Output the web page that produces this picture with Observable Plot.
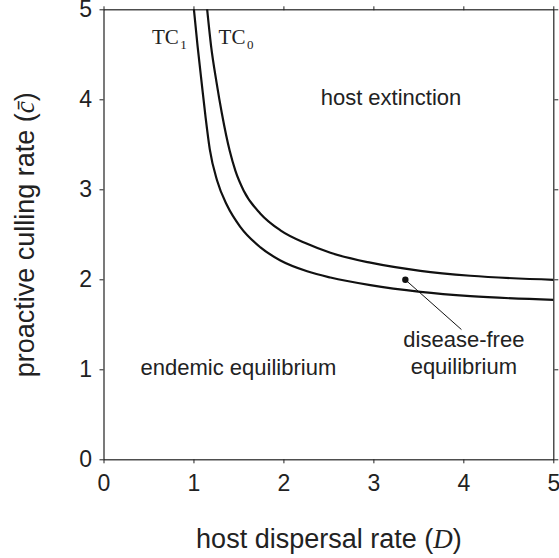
<!DOCTYPE html>
<html>
<head>
<meta charset="utf-8">
<script src="https://cdn.jsdelivr.net/npm/d3@7"></script>
<script src="https://cdn.jsdelivr.net/npm/@observablehq/plot@0.6"></script>
<style>
  html, body { margin: 0; padding: 0; background: #fff; }
</style>
</head>
<body>
<div id="chart"></div>
<script>
// ---- data ----
// TC1 (lower threshold curve): host dispersal rate D vs proactive culling rate c
const tc1D = [1.00, 1.04, 1.09, 1.13, 1.176, 1.258, 1.369, 1.517, 1.739, 1.961, 2.258, 2.517, 2.961, 3.517, 4.072, 5.00];
const tc1C = [5.00, 4.60, 4.15, 3.80, 3.45, 3.10, 2.825, 2.585, 2.36, 2.215, 2.095, 2.025, 1.94, 1.866, 1.818, 1.778];
// TC0 (upper threshold curve)
const tc0D = [1.147, 1.19, 1.25, 1.31, 1.398, 1.461, 1.553, 1.739, 1.961, 2.258, 2.517, 2.961, 3.517, 4.072, 5.00];
const tc0C = [5.00, 4.60, 4.20, 3.85, 3.43, 3.21, 2.99, 2.735, 2.55, 2.40, 2.30, 2.19, 2.10, 2.045, 2.00];
// disease-free equilibrium point and its leader line
const dfeD = [3.35];
const dfeC = [2.0];
const leaderD = [3.35, 3.97];
const leaderC = [2.0, 1.45];
// ticks
const xTicks = [0, 1, 2, 3, 4, 5];
const yTicks = [0, 1, 2, 3, 4, 5];
// region labels (anchored in data coordinates)
const regionText = ["host extinction", "endemic equilibrium", "disease-free", "equilibrium"];
const regionD = [3.19, 1.494, 4.0, 4.0];
const regionC = [3.937, 0.937, 1.251, 0.948];
// curve labels
const curveName = ["TC", "TC"];
const curveSub = ["1", "0"];
const curveLabelD = [0.831, 1.572];
const curveLabelC = [4.622, 4.622];
// axis titles
const xTitle = "host dispersal rate (D)";
const yTitle = "proactive culling rate (c\u0304)";

// ---- build tables ----
const tc1 = tc1D.map((d, i) => ({D: d, c: tc1C[i]}));
const tc0 = tc0D.map((d, i) => ({D: d, c: tc0C[i]}));
const dfe = dfeD.map((d, i) => ({D: d, c: dfeC[i]}));
const leader = leaderD.map((d, i) => ({D: d, c: leaderC[i]}));
const regions = regionText.map((t, i) => ({t, D: regionD[i], c: regionC[i]}));
const curveLabels = curveName.map((t, i) => ({t, s: curveSub[i], D: curveLabelD[i], c: curveLabelC[i]}));

const sans = "'Liberation Sans', Arial, Helvetica, sans-serif";
const serif = "'Liberation Serif', 'Times New Roman', Times, serif";
const ink = "#222";

const chart = Plot.plot({
  width: 559,
  height: 558,
  marginLeft: 103.5,
  marginRight: 5.7,
  marginTop: 9.3,
  marginBottom: 98.7,
  x: {domain: [0, 5]},
  y: {domain: [0, 5]},
  style: {fontFamily: sans, fontSize: "23px", color: ink, background: "#fff", overflow: "visible"},
  marks: [
    Plot.frame({stroke: ink, strokeWidth: 1.2}),
    Plot.axisX({anchor: "bottom", ticks: xTicks, tickSize: 4, tickPadding: 11, tickFormat: d => String(d), fontSize: 23, label: null, stroke: ink, fill: ink}),
    Plot.axisX({anchor: "top", ticks: xTicks, tickSize: 4, tickFormat: () => "", label: null, stroke: ink}),
    Plot.axisY({anchor: "left", ticks: yTicks, tickSize: 4, tickPadding: 8, tickFormat: d => String(d), fontSize: 23, label: null, stroke: ink, fill: ink}),
    Plot.axisY({anchor: "right", ticks: yTicks, tickSize: 4, tickFormat: () => "", label: null, stroke: ink}),
    Plot.line(tc1, {x: "D", y: "c", curve: "monotone-x", stroke: "#111", strokeWidth: 2.2, clip: true}),
    Plot.line(tc0, {x: "D", y: "c", curve: "monotone-x", stroke: "#111", strokeWidth: 2.2, clip: true}),
    Plot.line(leader, {x: "D", y: "c", stroke: "#111", strokeWidth: 1}),
    Plot.dot(dfe, {x: "D", y: "c", r: 3.2, fill: "#111", stroke: "none"}),
    Plot.text(regions, {x: "D", y: "c", text: "t", fontSize: 22, lineAnchor: "bottom", textAnchor: "middle", fill: ink}),
    Plot.text(curveLabels, {x: "D", y: "c", text: "t", fontSize: 21, fontFamily: serif, lineAnchor: "bottom", textAnchor: "end", fill: ink}),
    Plot.text(curveLabels, {x: "D", y: "c", text: "s", fontSize: 13, fontFamily: serif, lineAnchor: "bottom", textAnchor: "start", dx: 1.5, dy: 5, fill: ink}),
    Plot.text([xTitle], {frameAnchor: "bottom", dy: 87.7, fontSize: 27, lineAnchor: "bottom", textAnchor: "middle", fill: ink}),
    Plot.text([yTitle], {frameAnchor: "left", dx: -70.2, rotate: -90, fontSize: 27, lineAnchor: "bottom", textAnchor: "middle", fill: ink})
  ]
});

// rich text: italic math symbols inside axis titles
function richify(svg, content, parts) {
  d3.select(svg).selectAll("text").filter(function () { return this.textContent === content; }).each(function () {
    const t = d3.select(this);
    t.text(null);
    for (const [s, math] of parts) {
      const sp = t.append("tspan").text(s);
      if (math) sp.attr("font-family", serif).attr("font-style", "italic");
    }
  });
}
richify(chart, xTitle, [["host dispersal rate (", false], ["D", true], [")", false]]);
richify(chart, yTitle, [["proactive culling rate (", false], ["c\u0304", true], [")", false]]);

document.getElementById("chart").appendChild(chart);
</script>
</body>
</html>
